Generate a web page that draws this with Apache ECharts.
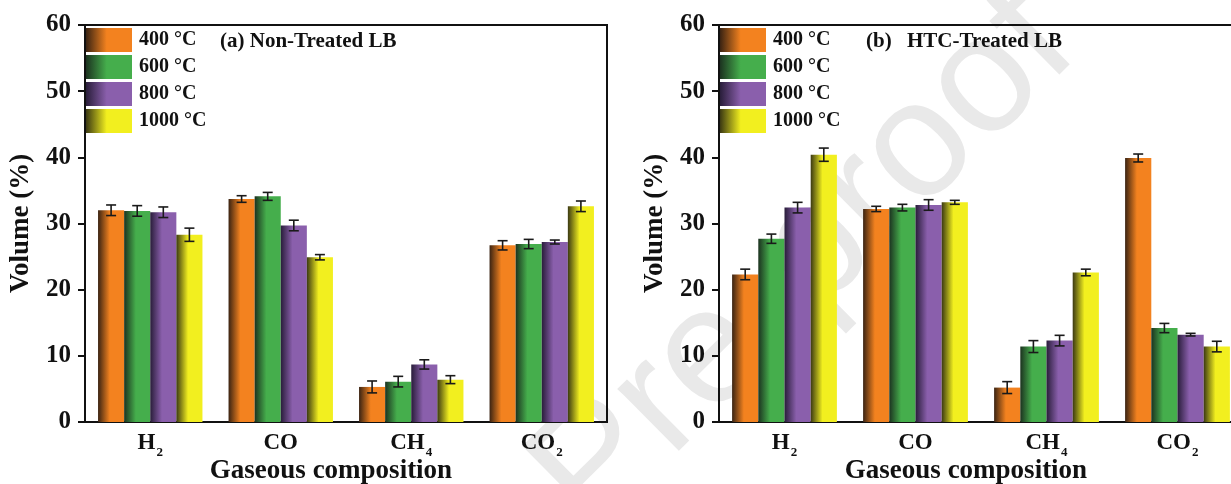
<!DOCTYPE html>
<html>
<head>
<meta charset="utf-8">
<script src="https://cdn.jsdelivr.net/npm/echarts@6/dist/echarts.min.js"></script>
<style>
html,body{margin:0;padding:0;background:#fff;}
#c{width:1231px;height:484px;}
</style>
</head>
<body>
<div id="c"></div>
<script>
// ---- data ----
const categories = ['H2', 'CO', 'CH4', 'CO2'];
const temps = ['400 °C', '600 °C', '800 °C', '1000 °C'];
const yTicks = [0, 10, 20, 30, 40, 50, 60];

// (a) Non-Treated LB
const nt400 = [32.0, 33.7, 5.3, 26.7];
const nt600 = [31.9, 34.1, 6.1, 26.9];
const nt800 = [31.7, 29.7, 8.7, 27.2];
const nt1000 = [28.3, 24.9, 6.4, 32.6];
const ntErr400 = [0.8, 0.5, 0.9, 0.7];
const ntErr600 = [0.8, 0.6, 0.8, 0.7];
const ntErr800 = [0.8, 0.8, 0.7, 0.3];
const ntErr1000 = [1.0, 0.4, 0.6, 0.8];

// (b) HTC-Treated LB
const htc400 = [22.3, 32.2, 5.2, 39.9];
const htc600 = [27.7, 32.4, 11.4, 14.2];
const htc800 = [32.4, 32.8, 12.3, 13.2];
const htc1000 = [40.4, 33.2, 22.6, 11.4];
const htcErr400 = [0.8, 0.4, 0.9, 0.6];
const htcErr600 = [0.7, 0.5, 0.9, 0.7];
const htcErr800 = [0.8, 0.8, 0.8, 0.2];
const htcErr1000 = [1.0, 0.3, 0.5, 0.8];

// ---- styles ----
const FONT = '"Liberation Serif", "Times New Roman", serif';
const brightC = ['#f3821f', '#45ae4c', '#8a5fac', '#f2ef1f'];
const darkC = ['#3a2312', '#1c3320', '#291d3a', '#3b3912'];
function grad(k) {
  return new echarts.graphic.LinearGradient(0, 0, 1, 0, [
    {offset: 0, color: darkC[k]},
    {offset: 0.45, color: brightC[k]},
    {offset: 1, color: brightC[k]}
  ]);
}

const panels = [
  {vals: [nt400, nt600, nt800, nt1000], errs: [ntErr400, ntErr600, ntErr800, ntErr1000]},
  {vals: [htc400, htc600, htc800, htc1000], errs: [htcErr400, htcErr600, htcErr800, htcErr1000]}
];

const BAR_FRAC = 0.2;
const series = [];
panels.forEach((p, pi) => {
  p.vals.forEach((arr, k) => {
    series.push({
      type: 'bar', name: temps[k], xAxisIndex: pi, yAxisIndex: pi,
      data: arr, barWidth: (BAR_FRAC * 100) + '%', barGap: '0%',
      itemStyle: {color: grad(k)}, z: 2
    });
  });
  const errData = [];
  p.vals.forEach((arr, k) => {
    arr.forEach((v, i) => errData.push([i, v, p.errs[k][i], k]));
  });
  series.push({
    type: 'custom', xAxisIndex: pi, yAxisIndex: pi, z: 5,
    data: errData, encode: {x: 0, y: 1},
    renderItem: function (params, api) {
      const i = api.value(0), v = api.value(1), e = api.value(2), k = api.value(3);
      const band = api.size([1, 0])[0];
      const bw = band * BAR_FRAC;
      const c0 = api.coord([i, v]);
      const x = c0[0] + (k - 1.5) * bw;
      const yTop = api.coord([i, v + e])[1];
      const yBot = api.coord([i, v - e])[1];
      const hw = 5;
      const st = {stroke: '#1a1a1a', lineWidth: 1.6};
      return {type: 'group', children: [
        {type: 'line', shape: {x1: x, y1: yTop, x2: x, y2: yBot}, style: st},
        {type: 'line', shape: {x1: x - hw, y1: yTop, x2: x + hw, y2: yTop}, style: st},
        {type: 'line', shape: {x1: x - hw, y1: yBot, x2: x + hw, y2: yBot}, style: st}
      ]};
    }
  });
});

function catFmt(v) {
  const m = v.match(/^([A-Z]+?)(\d?)$/);
  return '{a|' + m[1] + '}' + (m[2] ? '{s|' + m[2] + '}' : '');
}

function xAxis(gi) {
  return {
    type: 'category', gridIndex: gi, data: categories,
    axisLine: {lineStyle: {color: '#111', width: 2}},
    axisTick: {show: false},
    axisLabel: {
      margin: 7, formatter: catFmt,
      rich: {
        a: {fontFamily: FONT, fontWeight: 'bold', fontSize: 23, color: '#111', lineHeight: 26, verticalAlign: 'bottom'},
        s: {fontFamily: FONT, fontWeight: 'bold', fontSize: 13, color: '#111', lineHeight: 26, verticalAlign: 'bottom', padding: [0, 0, -4, 1]}
      }
    },
    name: 'Gaseous composition', nameLocation: 'middle', nameGap: 36, nameMoveOverlap: false,
    nameTextStyle: {fontFamily: FONT, fontWeight: 'bold', fontSize: 27, color: '#111', padding: [0, 30, 0, 0]}
  };
}
function yAxis(gi) {
  return {
    type: 'value', gridIndex: gi, min: yTicks[0], max: yTicks[yTicks.length - 1], interval: 10,
    axisLine: {show: true, lineStyle: {color: '#111', width: 2}},
    axisTick: {show: true, length: 7, lineStyle: {color: '#111', width: 2}},
    splitLine: {show: false},
    axisLabel: {fontFamily: FONT, fontWeight: 'bold', fontSize: 25, color: '#111', margin: 14},
    name: 'Volume (%)', nameLocation: 'middle', nameRotate: 90, nameGap: 50, nameMoveOverlap: false,
    nameTextStyle: {fontFamily: FONT, fontWeight: 'bold', fontSize: 27, color: '#111'}
  };
}
function legend(left) {
  return {
    data: temps, orient: 'vertical', left: left, top: 28, padding: 0,
    itemWidth: 46, itemHeight: 24, itemGap: 3, icon: 'rect', selectedMode: false,
    textStyle: {fontFamily: FONT, fontWeight: 'bold', fontSize: 20, color: '#111', padding: [0, 0, 0, 2]}
  };
}

const chart = echarts.init(document.getElementById('c'), null, {renderer: 'canvas'});
chart.setOption({
  backgroundColor: '#fff',
  animation: false,
  grid: [
    {left: 85, top: 25, width: 522, height: 397, outerBoundsMode: 'none', containLabel: false,
     show: true, borderColor: '#111', borderWidth: 2, backgroundColor: 'transparent'},
    {left: 719, top: 25, width: 524, height: 397, outerBoundsMode: 'none', containLabel: false,
     show: true, borderColor: '#111', borderWidth: 2, backgroundColor: 'transparent'}
  ],
  xAxis: [xAxis(0), xAxis(1)],
  yAxis: [yAxis(0), yAxis(1)],
  legend: [legend(86), legend(720)],
  series: series,
  graphic: [
    {type: 'text', z: -10, x: 805, y: 262, rotation: 0.78,
     style: {text: 'Pre-proof', x: 0, y: 0, align: 'center', verticalAlign: 'middle',
             font: '165px "Liberation Sans", Arial, sans-serif', fill: '#e9e9e9'}},
    {type: 'text', left: 220, top: 31, z: 10,
     style: {text: '(a) Non-Treated LB', font: 'bold 21px ' + FONT, fill: '#111'}},
    {type: 'text', left: 866, top: 31, z: 10,
     style: {text: '(b)', font: 'bold 21px ' + FONT, fill: '#111'}},
    {type: 'text', left: 907, top: 31, z: 10,
     style: {text: 'HTC-Treated LB', font: 'bold 21px ' + FONT, fill: '#111'}}
  ]
});
</script>
</body>
</html>
